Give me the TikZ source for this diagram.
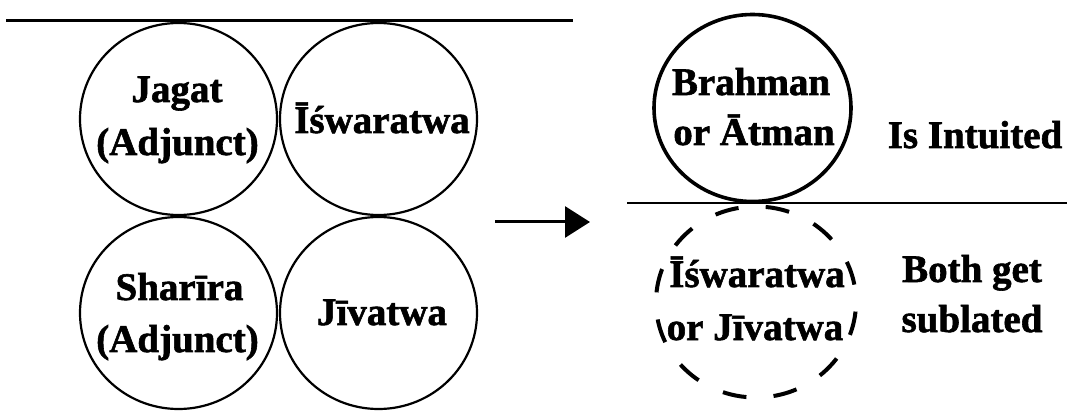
\documentclass[tikz,border=0pt]{standalone}
\usepackage{fontspec}
\setmainfont{Liberation Serif}[BoldFeatures={FakeBold=1.5}]
\usetikzlibrary{shapes.geometric,arrows.meta}
\tikzset{
  txt/.style={font=\fontsize{39}{46}\selectfont\bfseries, inner sep=0pt, anchor=base},
  circ/.style={draw, ellipse, inner sep=0pt, minimum width=197pt, minimum height=192pt, line width=2.2pt},
  bigcirc/.style={draw, ellipse, inner sep=0pt, minimum width=197pt, minimum height=187pt, line width=3.6pt},
  dcirc/.style={draw, ellipse, inner sep=0pt, minimum width=200pt, minimum height=191pt, line width=4pt,
    dash pattern=on 24pt off 27.2pt, dash phase=33.7pt},
  rule/.style={line width=3pt},
  arr/.style={line width=3pt, -{Triangle[length=25pt,width=31pt]}}
}
\begin{document}
\begin{tikzpicture}[x=1pt,y=-1pt]
\useasboundingbox (0,0) rectangle (1070,411);
% left group
\coordinate (la) at (6,21);
\coordinate (lb) at (573,21);
\draw[rule] (la) -- (lb);
\node[circ] (jagat) at (178.5,119) {};
\node[circ] (iswara) at (378.5,119) {};
\node[circ] (sharira) at (178.5,313) {};
\node[circ] (jiva) at (378.5,313) {};
\node[txt] (t1) at (177,102) {Jagat};
\node[txt] (t2) at (177.5,155) {(Adjunct)};
\node[txt] (t3) at (382,133) {Īśwaratwa};
\node[txt] (t4) at (179.5,300) {Sharīra};
\node[txt] (t5) at (177.5,352) {(Adjunct)};
\node[txt] (t6) at (382,325) {Jīvatwa};
% arrow
\coordinate (aa) at (495,222);
\coordinate (ab) at (590,222);
\draw[arr] (aa) -- (ab);
% right group
\node[bigcirc] (brahman) at (752.5,108) {};
\node[dcirc] (sublated) at (756,302) {};
\coordinate (ra) at (627,203);
\coordinate (rb) at (1067,203);
\draw[line width=2.6pt] (ra) -- (rb);
\node[txt] (t7) at (751,95) {Brahman};
\node[txt] (t8) at (754,145) {or Ātman};
\node[txt] (t9) at (975,148) {Is Intuited};
\node[txt] (t10) at (757,287) {Īśwaratwa};
\node[txt] (t11) at (755,340) {or Jīvatwa};
\node[txt] (t12) at (972,282) {Both get};
\node[txt] (t13) at (972,332) {sublated};
\end{tikzpicture}
\end{document}
